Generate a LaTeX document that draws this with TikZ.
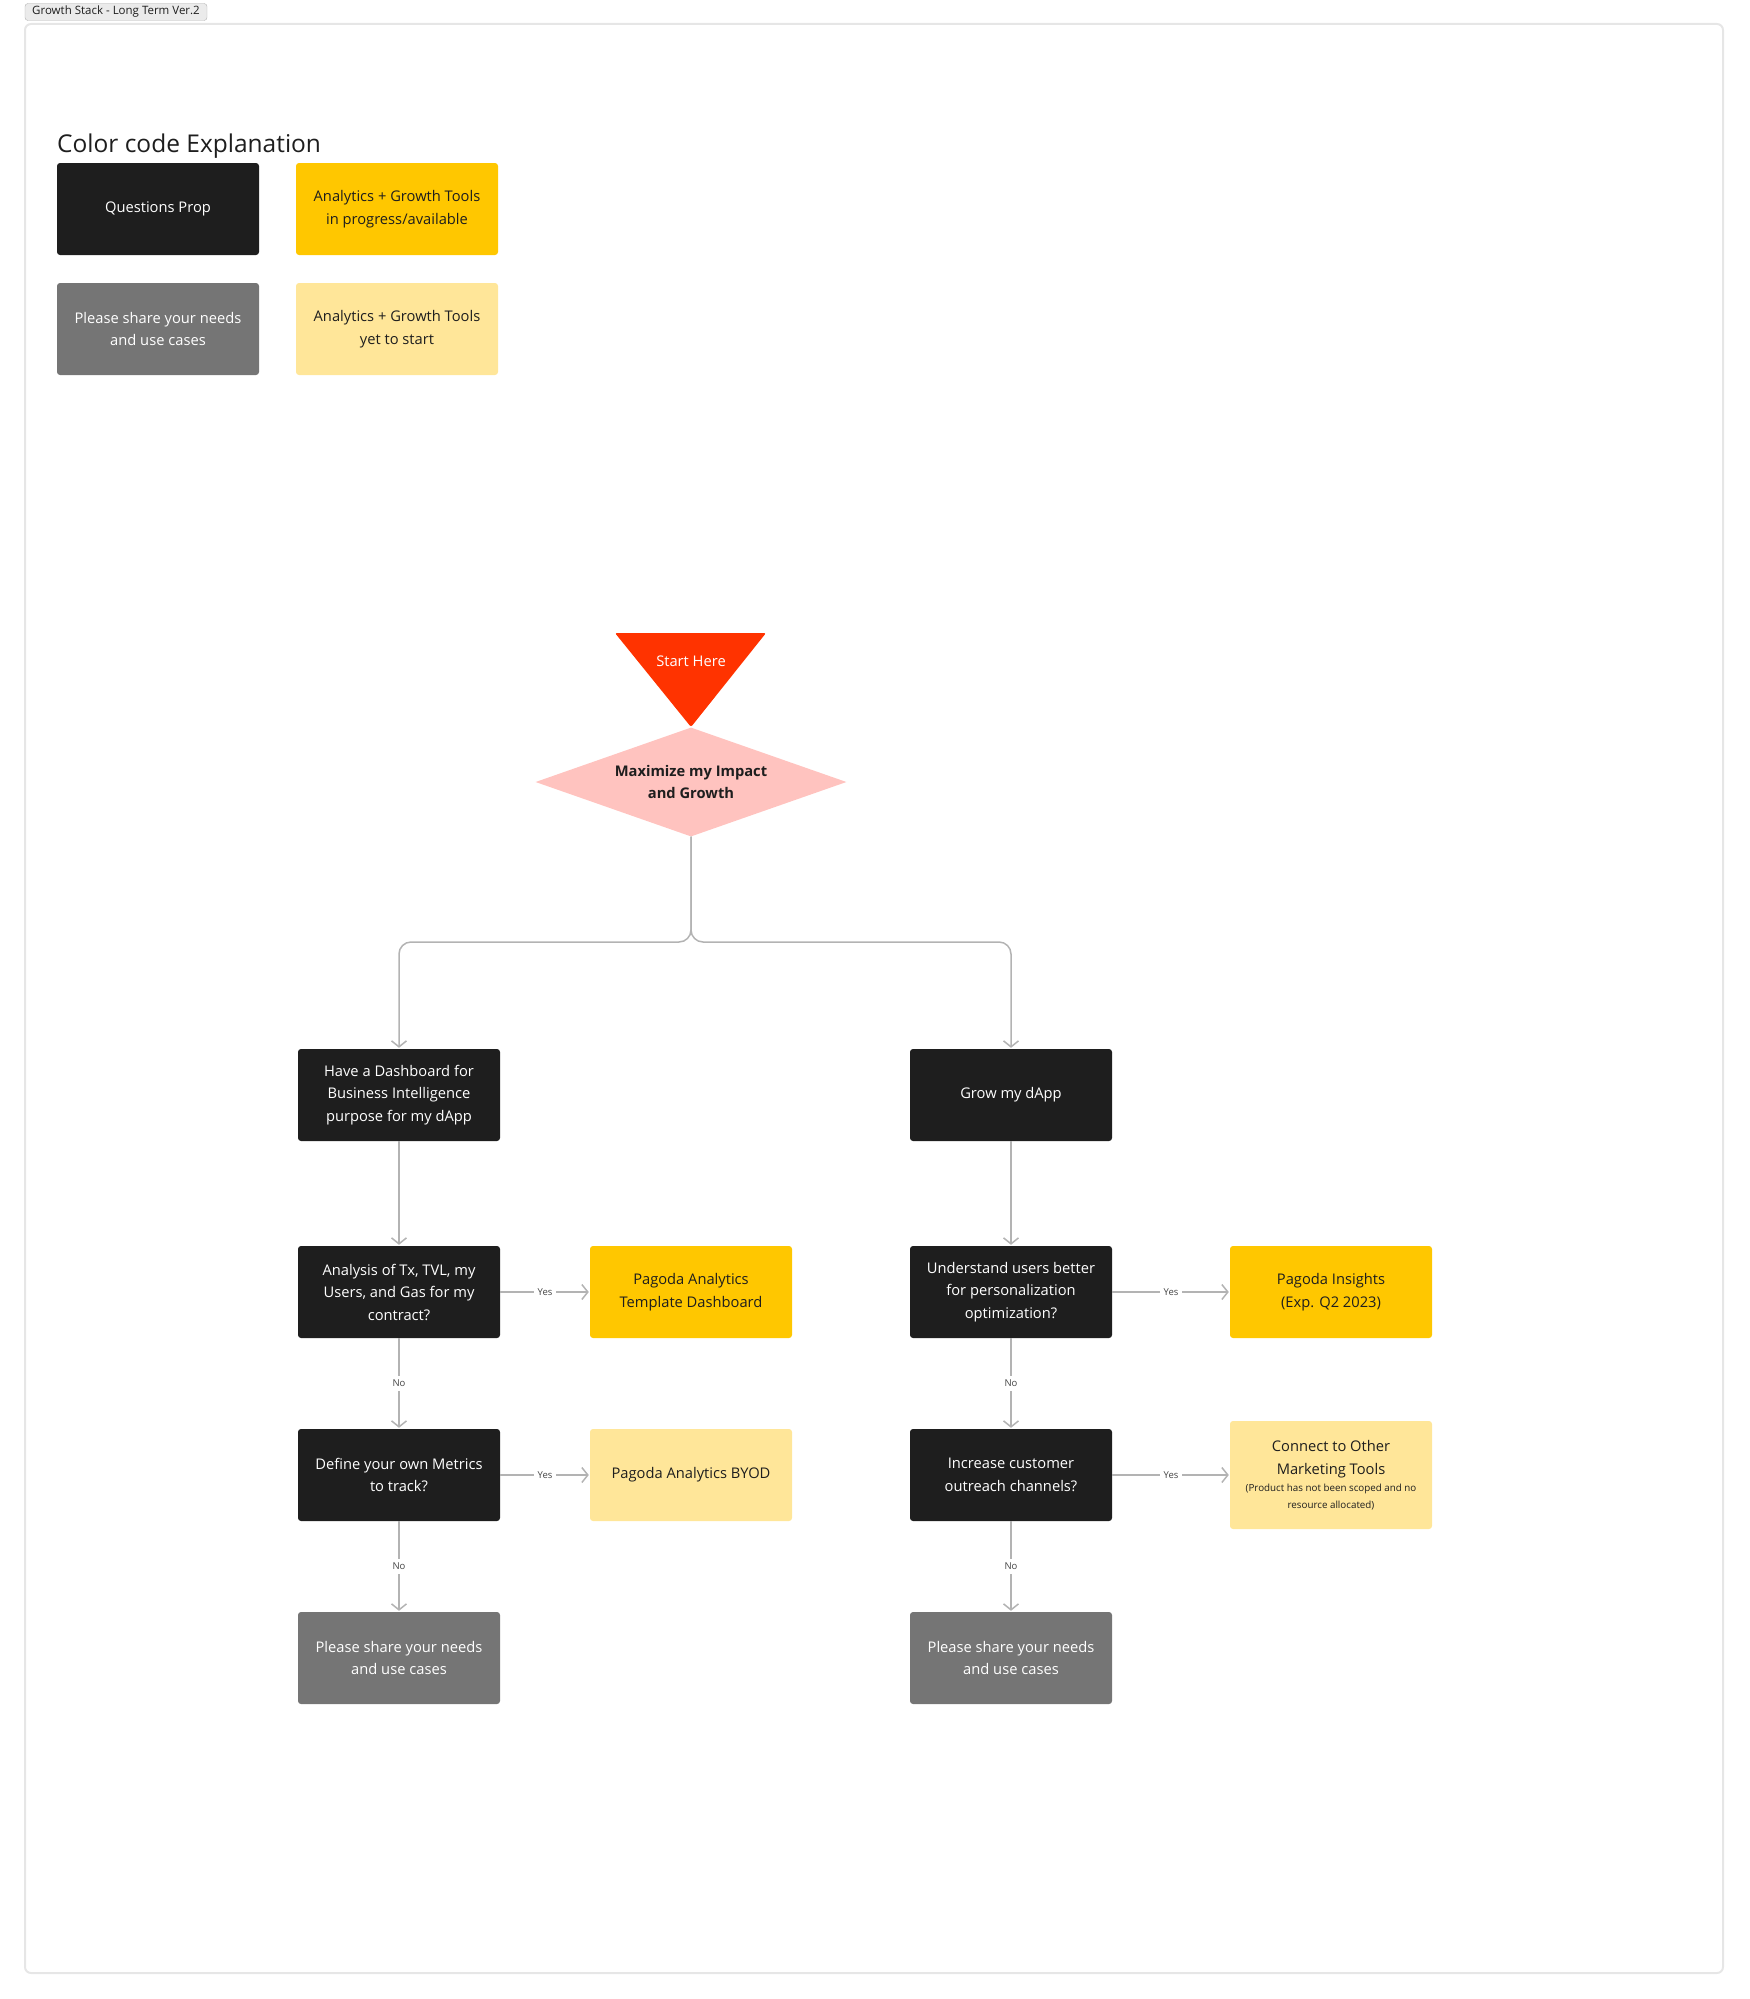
\documentclass[tikz,border=0pt]{standalone}
\usepackage{fontspec}
\setmainfont{Open Sans}
\usetikzlibrary{shapes.geometric,arrows.meta}
\definecolor{qdark}{HTML}{1E1E1E}
\definecolor{toolyellow}{HTML}{FFC700}
\definecolor{paleyellow}{HTML}{FFE699}
\definecolor{sharegray}{HTML}{757575}
\definecolor{startred}{HTML}{FF3300}
\definecolor{goalpink}{HTML}{FFC3BF}
\definecolor{linegray}{HTML}{B3B3B3}
\definecolor{framegray}{HTML}{E6E6E6}
\definecolor{tagtext}{HTML}{444444}
\tikzset{
  card/.style={rectangle, rounded corners=3pt, minimum width=202pt, minimum height=92pt,
    inner sep=0pt, align=center, font=\fontsize{14.7}{22.5}\selectfont},
  question/.style={card, fill=qdark, text=white},
  ready/.style={card, fill=toolyellow, text=qdark},
  pending/.style={card, fill=paleyellow, text=qdark},
  sharebox/.style={card, fill=sharegray, text=white},
  flowlink/.style={draw=linegray, line width=1.5pt, shorten >=1pt,
    -{Straight Barb[length=6pt,width=15pt,line width=1.5pt]}},
  choice/.style={fill=white, text=tagtext, inner sep=4pt, font=\fontsize{9.5}{9.5}\selectfont}
}
\begin{document}
\begin{tikzpicture}[x=1pt, y=-1pt]
\useasboundingbox (0,0) rectangle (1750,1999);
% board and its tab
\draw[framegray, line width=2pt, rounded corners=6pt] (25,24) rectangle (1723,1973);
\node[draw=black!30, fill=black!8, rounded corners=3pt, minimum width=182pt, minimum height=17pt,
  inner sep=0pt, font=\fontsize{11.5}{11.5}\selectfont, text=qdark] (tab) at (116,12) {Growth Stack - Long Term Ver.2};
% legend
\node[anchor=base west, inner sep=0pt, text=qdark, font=\fontsize{24.5}{24.5}\selectfont] (legend) at (57,153) {Color code Explanation};
\node[question] (lq) at (158,209) {Questions Prop};
\node[ready] (lr) at (397,209) {Analytics + Growth Tools\\in progress/available};
\node[sharebox] (ls) at (158,329) {Please share your needs\\and use cases};
\node[pending] (lp) at (397,329) {Analytics + Growth Tools\\yet to start};
% start and goal
\fill[startred, rounded corners=2pt] (615,633) -- (766,633) -- (691,727) -- cycle;
\node[text=white, font=\fontsize{14.7}{14.7}\selectfont] (start) at (691,661) {Start Here};
\node[diamond, fill=goalpink, minimum width=311pt, minimum height=109pt, inner sep=0pt, aspect=2.85,
  align=center, text=qdark, font=\bfseries\fontsize{14.7}{22.5}\selectfont] (max) at (691,782) {Maximize my Impact\\and Growth};
% left column
\node[question] (dash) at (399,1095) {Have a Dashboard for\\Business Intelligence\\purpose for my dApp};
\node[question] (txq) at (399,1292) {Analysis of Tx, TVL, my\\Users, and Gas for my\\contract?};
\node[ready] (template) at (691,1292) {Pagoda Analytics\\Template Dashboard};
\node[question] (metrics) at (399,1475) {Define your own Metrics\\to track?};
\node[pending] (byod) at (691,1475) {Pagoda Analytics BYOD};
\node[sharebox] (sharel) at (399,1658) {Please share your needs\\and use cases};
% right column
\node[question] (grow) at (1011,1095) {Grow my dApp};
\node[question] (users) at (1011,1292) {Understand users better\\for personalization\\optimization?};
\node[ready] (insights) at (1331,1292) {Pagoda Insights\\(Exp. Q2 2023)};
\node[question] (outreach) at (1011,1475) {Increase customer\\outreach channels?};
\node[pending, minimum height=108pt] (connect) at (1331,1475) {Connect to Other\\Marketing Tools\\[-5pt]
  {\fontsize{9.8}{12}\selectfont (Product has not been scoped and no}\\[-6pt]
  {\fontsize{9.8}{12}\selectfont resource allocated)}};
\node[sharebox] (sharer) at (1011,1658) {Please share your needs\\and use cases};
% branch from the goal
\coordinate (split) at (691,942);
\draw[flowlink, rounded corners=12pt] (max.south) -- (split) -| (dash.north);
\draw[flowlink, rounded corners=12pt] (max.south) -- (split) -| (grow.north);
% left flow
\draw[flowlink] (dash) -- (txq);
\draw[flowlink] (txq) -- node[choice] {Yes} (template);
\draw[flowlink] (txq) -- node[choice] {No} (metrics);
\draw[flowlink] (metrics) -- node[choice] {Yes} (byod);
\draw[flowlink] (metrics) -- node[choice] {No} (sharel);
% right flow
\draw[flowlink] (grow) -- (users);
\draw[flowlink] (users) -- node[choice] {Yes} (insights);
\draw[flowlink] (users) -- node[choice] {No} (outreach);
\draw[flowlink] (outreach) -- node[choice] {Yes} (connect);
\draw[flowlink] (outreach) -- node[choice] {No} (sharer);
\end{tikzpicture}
\end{document}
